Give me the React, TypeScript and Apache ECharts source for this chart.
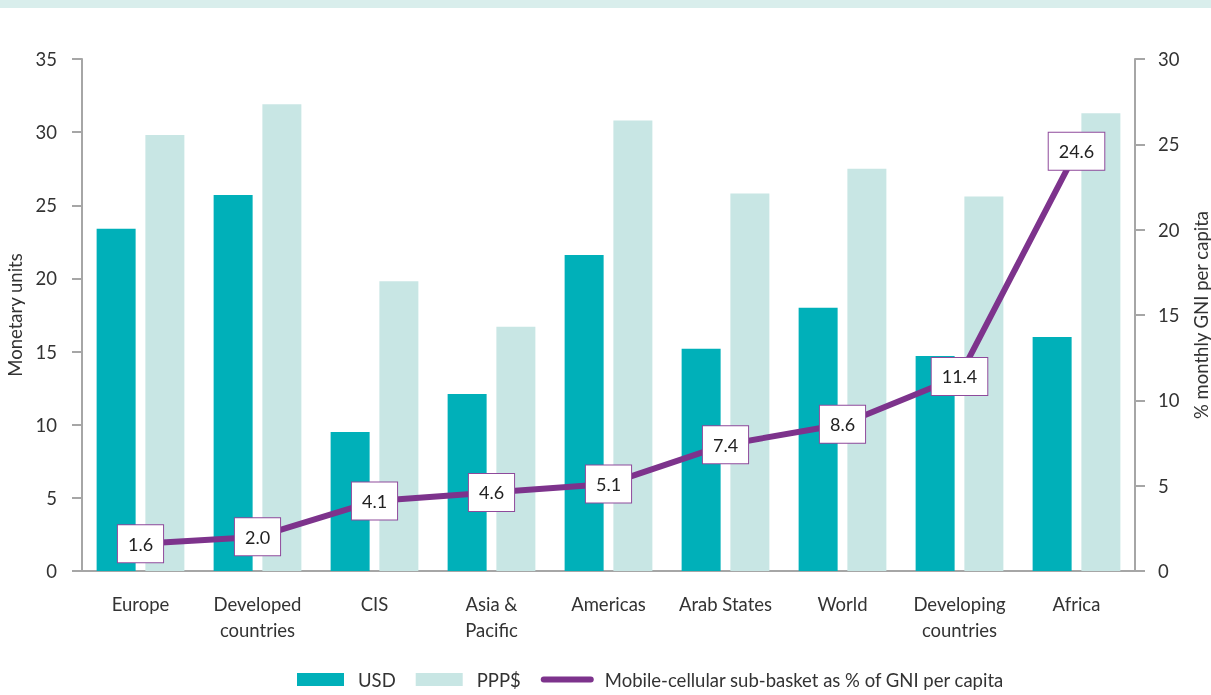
import React, { useEffect, useRef } from "react";
import * as echarts from "echarts";

const categories = [
  "Europe",
  "Developed\ncountries",
  "CIS",
  "Asia &\nPacific",
  "Americas",
  "Arab States",
  "World",
  "Developing\ncountries",
  "Africa",
];
const usd = [23.4, 25.7, 9.5, 12.1, 21.6, 15.2, 18.0, 14.7, 16.0];
const ppp = [29.8, 31.9, 19.8, 16.7, 30.8, 25.8, 27.5, 25.6, 31.3];
const gniShare = [1.6, 2.0, 4.1, 4.6, 5.1, 7.4, 8.6, 11.4, 24.6];
const leftTicks = { min: 0, max: 35, interval: 5 };
const rightTicks = { min: 0, max: 30, interval: 5 };

const FONT = "Lato";
const FS = 18.5;
const TEXT = "#333333";
const AXIS = "#a6a6a6";
const PURPLE = "#7d338c";
const LINE_NAME = "Mobile-cellular sub-basket as % of GNI per capita";

export default function App() {
  const ref = useRef<HTMLDivElement>(null);
  useEffect(() => {
    if (!ref.current) return;
    const chart = echarts.init(ref.current, undefined, { renderer: "svg" });
    chart.setOption({
      animation: false,
      textStyle: { fontFamily: FONT },
      graphic: [
        {
          type: "rect",
          left: 0,
          top: 0,
          shape: { width: 1211, height: 8 },
          style: { fill: "#d9eeec" },
        },
      ],
      grid: {
        left: 82,
        right: 76,
        top: 59,
        bottom: 124,
        containLabel: false,
        outerBoundsMode: "none",
      },
      legend: {
        bottom: 1,
        left: 292,
        itemWidth: 47,
        itemHeight: 13,
        itemGap: 20,
        textStyle: {
          fontFamily: FONT,
          fontSize: FS,
          color: TEXT,
          padding: [0, 0, 0, 9],
        },
        data: [
          { name: "USD", icon: "rect" },
          { name: "PPP$", icon: "rect" },
          {
            name: LINE_NAME,
            itemStyle: { opacity: 0 },
            lineStyle: { width: 6, cap: "round", color: PURPLE },
          },
        ],
      },
      xAxis: {
        type: "category",
        data: categories,
        axisLine: { lineStyle: { color: AXIS, width: 2 } },
        axisTick: { show: false },
        axisLabel: {
          fontFamily: FONT,
          fontSize: FS,
          color: TEXT,
          margin: 20,
          lineHeight: 26,
          interval: 0,
        },
      },
      yAxis: [
        {
          type: "value",
          ...leftTicks,
          name: "Monetary units",
          nameLocation: "middle",
          nameGap: 55,
          nameTextStyle: { fontFamily: FONT, fontSize: FS, color: TEXT },
          axisLine: { show: true, lineStyle: { color: AXIS, width: 2 } },
          axisTick: { show: true, length: 10, lineStyle: { color: AXIS, width: 2 } },
          axisLabel: { fontFamily: FONT, fontSize: FS, color: TEXT, margin: 25 },
          splitLine: { show: false },
        },
        {
          type: "value",
          ...rightTicks,
          position: "right",
          name: "% monthly GNI per capita",
          nameLocation: "middle",
          nameGap: 56,
          nameRotate: 90,
          nameTextStyle: { fontFamily: FONT, fontSize: FS, color: TEXT },
          axisLine: { show: true, lineStyle: { color: AXIS, width: 2 } },
          axisTick: { show: true, length: 10, lineStyle: { color: AXIS, width: 2 } },
          axisLabel: { fontFamily: FONT, fontSize: FS, color: TEXT, margin: 23 },
          splitLine: { show: false },
        },
      ],
      series: [
        {
          name: "USD",
          type: "bar",
          data: usd,
          barWidth: 39,
          barGap: "25%",
          itemStyle: { color: "#00b0b9" },
        },
        {
          name: "PPP$",
          type: "bar",
          data: ppp,
          barWidth: 39,
          itemStyle: { color: "#c8e6e4" },
        },
        {
          name: LINE_NAME,
          type: "line",
          yAxisIndex: 1,
          data: gniShare,
          symbol: "circle",
          symbolSize: 1,
          itemStyle: { color: PURPLE },
          lineStyle: { color: PURPLE, width: 6, cap: "round" },
          z: 5,
          label: {
            show: true,
            position: "inside",
            formatter: (p: any) => Number(p.value).toFixed(1),
            fontFamily: FONT,
            fontSize: 18,
            color: "#222222",
            backgroundColor: "#ffffff",
            borderColor: "#8e4a9b",
            borderWidth: 1,
            padding: [10, 10, 9, 10],
          },
        },
      ],
    });
    return () => chart.dispose();
  }, []);
  return (
    <div
      ref={ref}
      style={{ position: "fixed", left: 0, top: 0, width: 1211, height: 695 }}
    />
  );
}
